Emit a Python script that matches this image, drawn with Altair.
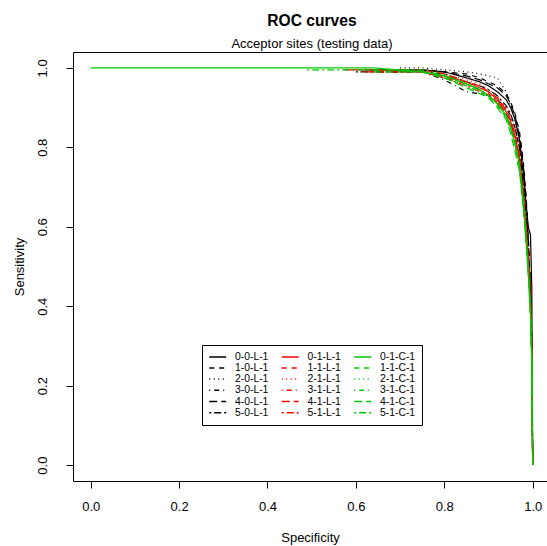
import altair as alt
import pandas as pd

FONT = "Liberation Sans"

SERIES = ["0-0-L-1", "1-0-L-1", "2-0-L-1", "3-0-L-1", "4-0-L-1", "5-0-L-1",
          "0-1-L-1", "1-1-L-1", "2-1-L-1", "3-1-L-1", "4-1-L-1", "5-1-L-1",
          "0-1-C-1", "1-1-C-1", "2-1-C-1", "3-1-C-1", "4-1-C-1", "5-1-C-1"]
GROUP = ["black"] * 6 + ["red"] * 6 + ["green"] * 6
COLORS = ["#000000"] * 6 + ["#FF0000"] * 6 + ["#00C800"] * 6
LTY = [[1, 0], [5, 5], [1, 3.5], [1, 4, 5, 4], [8, 4], [2, 3, 7, 3]]
DASHES = LTY * 3

# specificity where each curve begins, its sensitivity there, and where that plateau ends
START_SPEC = [0.62, 0.66, 0.70, 0.64, 0.68, 0.60,
              0.575, 0.63, 0.67, 0.61, 0.65, 0.69,
              0.00, 0.62, 0.66, 0.70, 0.64, 0.49]
START_SENS = [0.995, 0.995, 1.0, 0.99, 0.995, 0.99,
              0.995, 0.99, 0.995, 0.99, 0.995, 0.99,
              1.0, 0.995, 0.995, 0.99, 0.99, 0.995]
PLATEAU_END = [0.70, 0.70, 0.72, 0.70, 0.70, 0.68,
               0.66, 0.68, 0.70, 0.67, 0.69, 0.71,
               0.64, 0.68, 0.70, 0.72, 0.68, 0.62]

SPEC_GRID = [0.75, 0.80, 0.85, 0.88, 0.90, 0.92, 0.94, 0.95, 0.96, 0.97,
             0.975, 0.98, 0.985, 0.99, 0.995, 0.998, 1.0]

SENS_0_0_L = [0.995, 0.99, 0.975, 0.965, 0.955, 0.94, 0.92, 0.90, 0.87, 0.82, 0.77, 0.72, 0.66, 0.60, 0.58, 0.45, 0.0]
SENS_1_0_L = [0.995, 0.99, 0.985, 0.975, 0.965, 0.955, 0.935, 0.915, 0.885, 0.84, 0.80, 0.75, 0.68, 0.58, 0.45, 0.32, 0.0]
SENS_2_0_L = [1.0, 0.995, 0.99, 0.985, 0.98, 0.975, 0.94, 0.905, 0.87, 0.82, 0.79, 0.72, 0.64, 0.56, 0.44, 0.30, 0.0]
SENS_3_0_L = [0.99, 0.97, 0.94, 0.935, 0.93, 0.92, 0.90, 0.88, 0.85, 0.80, 0.745, 0.685, 0.62, 0.55, 0.43, 0.28, 0.0]
SENS_4_0_L = [0.995, 0.99, 0.98, 0.97, 0.96, 0.95, 0.93, 0.91, 0.88, 0.83, 0.79, 0.74, 0.67, 0.57, 0.44, 0.30, 0.0]
SENS_5_0_L = [0.99, 0.985, 0.965, 0.955, 0.945, 0.93, 0.905, 0.885, 0.85, 0.80, 0.75, 0.69, 0.62, 0.55, 0.43, 0.29, 0.0]
SENS_0_1_L = [0.99, 0.98, 0.965, 0.95, 0.94, 0.92, 0.89, 0.865, 0.83, 0.775, 0.72, 0.66, 0.59, 0.52, 0.41, 0.29, 0.0]
SENS_1_1_L = [0.99, 0.975, 0.96, 0.945, 0.93, 0.915, 0.885, 0.86, 0.82, 0.77, 0.71, 0.65, 0.58, 0.51, 0.40, 0.28, 0.0]
SENS_2_1_L = [0.995, 0.985, 0.97, 0.96, 0.945, 0.93, 0.90, 0.875, 0.84, 0.785, 0.73, 0.67, 0.60, 0.53, 0.42, 0.30, 0.0]
SENS_3_1_L = [0.99, 0.98, 0.96, 0.945, 0.935, 0.915, 0.885, 0.86, 0.825, 0.77, 0.715, 0.655, 0.59, 0.52, 0.41, 0.29, 0.0]
SENS_4_1_L = [0.995, 0.985, 0.965, 0.955, 0.94, 0.925, 0.895, 0.87, 0.835, 0.78, 0.725, 0.665, 0.60, 0.53, 0.44, 0.31, 0.0]
SENS_5_1_L = [0.99, 0.975, 0.955, 0.94, 0.93, 0.91, 0.88, 0.855, 0.815, 0.76, 0.70, 0.645, 0.58, 0.50, 0.40, 0.27, 0.0]
SENS_0_1_C = [0.99, 0.98, 0.96, 0.945, 0.93, 0.91, 0.88, 0.85, 0.81, 0.755, 0.70, 0.64, 0.57, 0.49, 0.39, 0.27, 0.0]
SENS_1_1_C = [0.99, 0.975, 0.955, 0.94, 0.925, 0.905, 0.875, 0.845, 0.805, 0.75, 0.695, 0.635, 0.565, 0.49, 0.38, 0.26, 0.0]
SENS_2_1_C = [0.995, 0.985, 0.965, 0.95, 0.94, 0.92, 0.89, 0.86, 0.82, 0.765, 0.715, 0.655, 0.585, 0.51, 0.40, 0.28, 0.0]
SENS_3_1_C = [0.99, 0.98, 0.96, 0.945, 0.93, 0.91, 0.88, 0.85, 0.81, 0.755, 0.705, 0.645, 0.575, 0.50, 0.39, 0.27, 0.0]
SENS_4_1_C = [0.99, 0.975, 0.95, 0.935, 0.925, 0.90, 0.87, 0.835, 0.79, 0.74, 0.69, 0.63, 0.56, 0.48, 0.37, 0.25, 0.0]
SENS_5_1_C = [0.995, 0.98, 0.96, 0.945, 0.93, 0.91, 0.88, 0.85, 0.81, 0.755, 0.70, 0.64, 0.57, 0.49, 0.38, 0.26, 0.0]

SENS = [SENS_0_0_L, SENS_1_0_L, SENS_2_0_L, SENS_3_0_L, SENS_4_0_L, SENS_5_0_L,
        SENS_0_1_L, SENS_1_1_L, SENS_2_1_L, SENS_3_1_L, SENS_4_1_L, SENS_5_1_L,
        SENS_0_1_C, SENS_1_1_C, SENS_2_1_C, SENS_3_1_C, SENS_4_1_C, SENS_5_1_C]

TICKS = [0.0, 0.2, 0.4, 0.6, 0.8, 1.0]

rows = []
for name, grp, start, s0, plat, sens in zip(SERIES, GROUP, START_SPEC, START_SENS, PLATEAU_END, SENS):
    pts = [(start, s0)]
    if plat > start:
        pts.append((plat, s0))
    pts += list(zip(SPEC_GRID, sens)) + [(1.0, 0.0)]
    for i, (sp, se) in enumerate(pts):
        rows.append({"series": name, "group": grp, "spec": sp, "sens": se, "idx": i})
df = pd.DataFrame(rows)

xscale = alt.Scale(domain=[-0.04, 1.0324], nice=False, zero=False)
yscale = alt.Scale(domain=[-0.04, 1.04], nice=False, zero=False)

base = alt.Chart(df).mark_line(strokeWidth=1.2).encode(
    x=alt.X("spec:Q", scale=xscale,
            axis=alt.Axis(values=TICKS, format=".1f", title="Specificity",
                          labelPadding=12, titleY=60, titleBaseline="alphabetic",
                          labelFlush=False)),
    y=alt.Y("sens:Q", scale=yscale,
            axis=alt.Axis(values=TICKS, format=".1f", title="Sensitivity",
                          labelAngle=270, labelAlign="center", labelBaseline="bottom",
                          labelPadding=17, titleX=-50, titleBaseline="alphabetic",
                          titleAngle=270, labelFlush=False)),
    color=alt.Color("series:N", scale=alt.Scale(domain=SERIES, range=COLORS),
                    legend=alt.Legend(title=None)),
    strokeDash=alt.StrokeDash("series:N", scale=alt.Scale(domain=SERIES, range=DASHES),
                              legend=alt.Legend(title=None)),
    order=alt.Order("idx:Q"),
)

layers = [base.transform_filter(alt.datum.group == g) for g in ["black", "red", "green"]]

chart = alt.layer(*layers).properties(
    width=474,
    height=429,
    autosize=alt.AutoSizeParams(type="none"),
    padding={"left": 73, "top": 52, "right": 0, "bottom": 65},
    title=alt.TitleParams(
        "ROC curves",
        subtitle="Acceptor sites (testing data)",
        font=FONT, fontSize=15.6, fontWeight="bold", color="black",
        subtitleFont=FONT, subtitleFontSize=13, subtitleColor="black",
        anchor="middle", offset=1, subtitlePadding=8, dx=2,
    ),
).configure_view(
    stroke="black", strokeWidth=1
).configure_axis(
    labelFont=FONT, labelFontSize=13, labelColor="black",
    titleFont=FONT, titleFontSize=13, titleFontWeight="normal", titleColor="black",
    tickColor="black", tickSize=7, tickWidth=1, domain=False, grid=False,
).configure_legend(
    orient="none", legendX=129, legendY=293, columns=3,
    symbolType="M-2,0H2", symbolSize=72, symbolStrokeWidth=1.5, symbolOffset=4,
    labelFont=FONT, labelFontSize=10.4, labelColor="black", labelOffset=12,
    columnPadding=9.5, rowPadding=0.2, padding=6.5,
    strokeColor="black", strokeWidth=1, fillColor="white", symbolLimit=0,
)

chart.save("out.html", embed_options={"renderer": "svg", "actions": False})
